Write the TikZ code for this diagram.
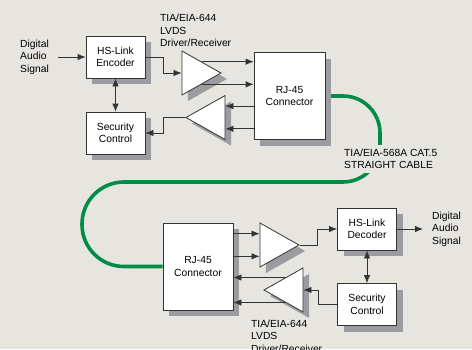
\documentclass[tikz,border=0pt]{standalone}
\usepackage{fontspec}
\setmainfont{Liberation Sans}
\usetikzlibrary{shapes.geometric,shadows,arrows.meta,calc}
\definecolor{canvas}{HTML}{E6E5DF}
\definecolor{shade}{HTML}{9C9CA0}
\definecolor{cablegreen}{HTML}{008C46}
\definecolor{ink}{HTML}{333333}
\pgfdeclarelayer{back}
\pgfdeclarelayer{cab}
\pgfsetlayers{back,cab,main}
\tikzset{
  blk/.style={draw=ink, fill=white, line width=0.8pt, minimum width=59, minimum height=42, align=center,
    drop shadow={shadow xshift=6pt, shadow yshift=-6pt, fill=shade, opacity=1}},
  amp/.style={isosceles triangle, isosceles triangle stretches, draw=ink, fill=white, line width=0.8pt,
    inner sep=0pt, minimum width=44, minimum height=39, anchor=apex,
    drop shadow={shadow xshift=6pt, shadow yshift=-6pt, fill=shade, opacity=1}},
  sig/.style={draw=ink, line width=0.8pt, -{Latex[length=8pt,width=6.5pt]}},
  both/.style={sig, {Latex[length=8pt,width=6.5pt]}-{Latex[length=8pt,width=6.5pt]}},
  note/.style={align=left, anchor=west, inner sep=3pt}
}
\begin{document}
\begin{tikzpicture}[x=1pt, y=-1pt, font=\fontsize{10.3}{12.5}\selectfont]
\begin{pgfonlayer}{back}
  \fill[canvas] (0,0) rectangle (472,349);
\end{pgfonlayer}
\useasboundingbox (0,0) rectangle (472,349);

\node (enc) [blk] at (115.5,57) {HS-Link\\Encoder};
\node (secA) [blk] at (115.5,133) {Security\\Control};
\node (rjA) [blk, minimum width=71, minimum height=87] at (289.5,96) {RJ-45\\Connector};
\node (drvA) [amp] at (222,73) {};
\node (rcvA) [amp, shape border rotate=180] at (185,117.5) {};
\node (inA) [note] at (17,57) {Digital\\Audio\\Signal};
\node (tagA) [note] at (157,30.5) {TIA/EIA-644\\LVDS\\Driver/Receiver};

\node (rjB) [blk, minimum width=70, minimum height=87] at (198,266.5) {RJ-45\\Connector};
\node (drvB) [amp] at (300,245) {};
\node (rcvB) [amp, shape border rotate=180] at (263,290) {};
\node (dec) [blk] at (367,229) {HS-Link\\Decoder};
\node (secB) [blk] at (367,304.5) {Security\\Control};
\node (outB) [note] at (429,229) {Digital\\Audio\\Signal};
\node (tagB) [note] at (248,336) {TIA/EIA-644\\LVDS\\Driver/Receiver};

\node (cat) [note, fill=canvas, inner ysep=4pt] at (341,159) {TIA/EIA-568A CAT.5\\STRAIGHT CABLE};

\begin{pgfonlayer}{cab}
  \draw[cablegreen, line width=3.6pt, rounded corners=37] (rjA.east) -- (380,96) -- (380,182) -- (200,182);
  \draw[cablegreen, line width=3.6pt, rounded corners=42] (200,182) -- (82,182) |- (rjB.west);
\end{pgfonlayer}

\coordinate (a1) at ($(drvA.apex)!.5!(drvA.left corner)$);
\coordinate (a2) at ($(drvA.apex)!.5!(drvA.right corner)$);
\coordinate (a3) at ($(rcvA.left corner)!.25!(rcvA.right corner)$);
\coordinate (a4) at ($(rcvA.left corner)!.75!(rcvA.right corner)$);
\coordinate (b1) at ($(drvB.left corner)!.25!(drvB.right corner)$);
\coordinate (b2) at ($(drvB.left corner)!.75!(drvB.right corner)$);
\coordinate (b3) at ($(rcvB.apex)!.55!(rcvB.left corner)$);
\coordinate (b4) at ($(rcvB.apex)!.55!(rcvB.right corner)$);

\draw[sig, shorten <=6pt] (inA) -- (enc);
\draw[sig] (enc.east) -- ++(18,0) |- (drvA.west);
\draw[sig] (a1) -- (a1 -| rjA.west);
\draw[sig] (a2) -- (a2 -| rjA.west);
\draw[sig] (a3 -| rjA.west) -- (a3);
\draw[sig] (a4 -| rjA.west) -- (a4);
\draw[sig] (rcvA.apex) -- ++(-22,0) |- (secA.east);
\draw[both] (enc) -- (secA);

\draw[sig] (b1 -| rjB.east) -- (b1);
\draw[sig] (b2 -| rjB.east) -- (b2);
\draw[sig] (drvB.apex) -- ++(17,0) |- (dec.west);
\draw[sig, shorten >=6pt] (dec) -- (outB);
\draw[both] (dec) -- (secB);
\draw[sig] (secB.west) -- ++(-19,0) |- (rcvB.east);
\draw[sig] (b3) -- (b3 -| rjB.east);
\draw[sig] (b4) -- (b4 -| rjB.east);
\end{tikzpicture}
\end{document}
